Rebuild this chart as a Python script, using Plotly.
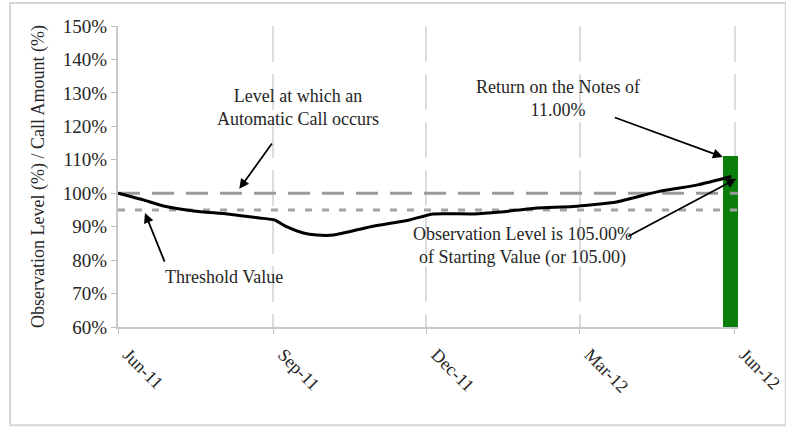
import plotly.graph_objects as go

# ---------------- data ----------------
obs_dates = ["2011-06-01", "2011-06-16", "2011-06-28", "2011-07-16", "2011-08-05",
             "2011-08-24", "2011-09-02", "2011-09-09", "2011-09-19", "2011-09-27",
             "2011-10-07", "2011-10-29", "2011-11-21", "2011-12-05", "2011-12-29",
             "2012-01-14", "2012-02-05", "2012-02-26", "2012-03-23", "2012-04-16",
             "2012-05-10", "2012-05-30"]
obs_levels = [100.0, 98.0, 96.2, 94.7, 93.8,
              92.6, 92.0, 90.0, 88.1, 87.5,
              87.5, 90.0, 92.0, 93.8, 93.8,
              94.4, 95.6, 96.0, 97.4, 100.4,
              102.5, 105.0]

bar_dates = ["2012-05-30"]
bar_values = [111.0]

call_level = 100
threshold_level = 95

y_ticks = [60, 70, 80, 90, 100, 110, 120, 130, 140, 150]
x_start, x_end = "2011-06-01", "2012-06-03"

FONT = "Liberation Serif, Times New Roman, serif"
TXT = "#262626"

fig = go.Figure()

fig.add_trace(go.Bar(x=bar_dates, y=bar_values, marker_color="#0a7d0a",
                     marker_line_width=0, width=9.5 * 86400000, showlegend=False))

fig.add_trace(go.Scatter(x=[x_start, x_end], y=[call_level, call_level], mode="lines",
                         line=dict(color="#9a9a9a", width=3, dash="22px,12px"),
                         showlegend=False))
fig.add_trace(go.Scatter(x=[x_start, x_end], y=[threshold_level, threshold_level], mode="lines",
                         line=dict(color="#a3a3a3", width=3, dash="7px,10px"),
                         showlegend=False))

fig.add_trace(go.Scatter(x=obs_dates, y=obs_levels, mode="lines",
                         line=dict(color="black", width=3, shape="spline", smoothing=0.5),
                         showlegend=False))

# text annotations
texts = [
    ("2011-09-16", 125.5, "Level at which an<br>Automatic Call occurs"),
    ("2011-08-03", 75.0, "Threshold Value"),
    ("2012-02-17", 128.2, "Return on the Notes of<br>11.00%"),
    ("2012-01-27", 84.2, "Observation Level is 105.00%<br>of Starting Value (or 105.00)"),
]
for x, y, t in texts:
    fig.add_annotation(x=x, y=y, text=t, showarrow=False, xref="x", yref="y",
                       font=dict(family=FONT, size=18, color=TXT), align="center")

arrows = [
    ("2011-08-12", 101.3, "2011-09-01", 115.3),
    ("2011-06-17", 94.1, "2011-06-29", 79.1),
    ("2012-05-25", 110.8, "2012-03-21", 122.8),
    ("2012-06-02", 104.3, "2012-03-29", 86.9),
]
for hx, hy, tx, ty in arrows:
    fig.add_annotation(x=hx, y=hy, ax=tx, ay=ty, xref="x", yref="y", axref="x", ayref="y",
                       text="", showarrow=True, arrowhead=2, arrowsize=1.1,
                       arrowwidth=1.8, arrowcolor="black")

# outer border
fig.add_shape(type="rect", xref="paper", yref="paper", x0=-0.174, x1=1.077,
              y0=-0.326, y1=1.076, line=dict(color="#d6d6d6", width=2), layer="below")

fig.update_layout(
    width=786, height=427,
    margin=dict(l=118, r=48, t=26, b=100, autoexpand=False),
    paper_bgcolor="white", plot_bgcolor="white",
    font=dict(family=FONT, size=18, color=TXT),
    bargap=0,
)
fig.update_xaxes(
    type="date", range=[x_start, x_end],
    tick0="2011-06-01", dtick="M3", tickformat="%b-%y", tickangle=45,
    ticks="outside", ticklen=5, tickcolor="#bfbfbf",
    ticklabelstandoff=3, ticklabelshift=10, automargin=False,
    showline=True, linecolor="#c8c8c8", linewidth=2,
    showgrid=True, gridcolor="#dcdcdc", gridwidth=1.5, griddash="36px,12px",
    zeroline=False, tickfont=dict(size=18),
)
fig.update_yaxes(
    range=[60, 150], tickvals=y_ticks, ticktext=[f"{v}%" for v in y_ticks],
    ticks="outside", ticklen=5, tickcolor="#bfbfbf", automargin=False,
    showline=True, linecolor="#c8c8c8", linewidth=2,
    showgrid=False, zeroline=False, tickfont=dict(size=19),
    title=dict(text="Observation Level (%) / Call Amount (%)", font=dict(size=18), standoff=14),
)

fig.write_html("out.html", config={"displayModeBar": False},
               post_script="document.body.style.margin='0px';")
